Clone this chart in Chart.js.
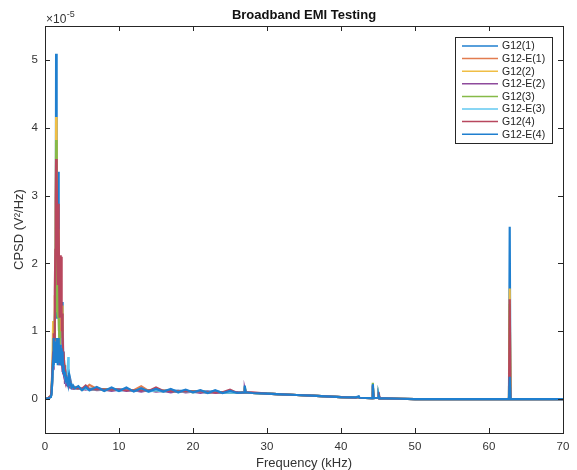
<!DOCTYPE html>
<html>
<head>
<meta charset="utf-8">
<script src="https://cdn.jsdelivr.net/npm/chart.js@4.4.1/dist/chart.umd.min.js"></script>
<style>
  html, body { margin: 0; padding: 0; background: #fff; }
  #wrap { width: 577px; height: 470px; position: relative; }
</style>
</head>
<body>
<div id="wrap"><canvas id="emi"></canvas></div>
<script>
// values in units of 1e-5 V^2/Hz, frequency in kHz
var TITLE = "Broadband EMI Testing";
var X_LABEL = "Frequency (kHz)";
var Y_LABEL = "CPSD (V\u00b2/Hz)";
var Y_EXP = "-5";

var X_TICKS = [0, 10, 20, 30, 40, 50, 60, 70];
var Y_TICKS = [0, 1, 2, 3, 4, 5];

var SERIES = ["G12(1)", "G12-E(1)", "G12(2)", "G12-E(2)", "G12(3)", "G12-E(3)", "G12(4)", "G12-E(4)"];
var COLORS = ["#1f7fcf", "#e27c4f", "#f0be45", "#8e4a9c", "#86ba48", "#62c8f0", "#b8475e", "#1f7fcf"];

// 0 - 4 kHz, the spike region
var freqLow = [0, 0.4, 0.8, 0.9, 1.0, 1.1, 1.15, 1.2, 1.25, 1.3, 1.35, 1.4, 1.45, 1.5, 1.55, 1.6, 1.65, 1.7, 1.75, 1.8,
  1.85, 1.9, 1.95, 2.0, 2.05, 2.1, 2.15, 2.2, 2.25, 2.3, 2.35, 2.4, 2.45, 2.5, 2.6, 2.7, 2.8, 2.9, 3.0, 3.05,
  3.1, 3.15, 3.2, 3.3, 3.4, 3.5, 3.6, 3.8, 4.0];
// 4.5 - 70 kHz
var freqHigh = [4.5, 5, 5.5, 6, 7, 8, 9, 10, 11, 12, 13, 14, 15, 16, 17, 18, 19, 20, 21, 22,
  23, 24, 25, 26, 26.9, 27, 27.1, 28, 30, 32, 34, 36, 38, 40, 42, 42.4, 42.5, 44.2, 44.3, 44.4,
  45, 45.1, 45.2, 46, 48, 50, 55, 60, 62.7, 62.8, 62.9, 65, 70];

var g12_1_low = [0, 0.01, 0.04, 0.12, 0.4, 0.6, 0.8, 0.7, 0.85, 0.9, 1.1, 1.4, 2.0, 5.09, 2.4, 1.5, 1.2, 1.3, 2.0, 3.35,
  1.6, 1.0, 0.9, 1.2, 0.8, 1.1, 0.9, 1.0, 0.8, 1.2, 0.7, 1.43, 0.6, 0.7, 0.5, 0.45, 0.4, 0.3, 0.3, 0.28,
  0.35, 0.25, 0.3, 0.28, 0.22, 0.25, 0.2, 0.18, 0.17];
var g12_1_high = [0.17, 0.15, 0.16, 0.15, 0.16, 0.14, 0.15, 0.14, 0.14, 0.13, 0.14, 0.13, 0.13, 0.12, 0.13, 0.12, 0.12, 0.11, 0.12, 0.11,
  0.11, 0.1, 0.1, 0.1, 0.1, 0.18, 0.09, 0.09, 0.08, 0.07, 0.06, 0.05, 0.04, 0.03, 0.02, 0.03, 0.02, 0.015, 0.2, 0.015,
  0.02, 0.06, 0.01, 0.01, 0.005, 0, 0, 0, 0, 2.54, 0, 0, 0];

var g12e_1_low = [0, 0.01, 0.05, 0.1, 0.3, 0.5, 0.6, 0.55, 0.7, 0.65, 0.8, 0.7, 0.75, 0.9, 0.7, 0.8, 0.6, 0.75, 0.7, 0.85,
  0.6, 0.7, 0.5, 0.65, 0.6, 0.7, 0.5, 0.6, 0.55, 0.6, 0.45, 0.5, 0.4, 0.45, 0.35, 0.3, 0.32, 0.25, 0.22, 0.24,
  0.26, 0.2, 0.24, 0.22, 0.18, 0.2, 0.17, 0.16, 0.18];
var g12e_1_high = [0.17, 0.14, 0.16, 0.21, 0.15, 0.14, 0.15, 0.13, 0.14, 0.13, 0.19, 0.12, 0.13, 0.12, 0.12, 0.11, 0.12, 0.11, 0.11, 0.1,
  0.11, 0.1, 0.1, 0.09, 0.1, 0.15, 0.09, 0.09, 0.08, 0.07, 0.06, 0.05, 0.04, 0.03, 0.02, 0.03, 0.02, 0.015, 0.12, 0.015,
  0.02, 0.07, 0.01, 0.01, 0.005, 0, 0, 0, 0, 0.25, 0, 0, 0];

var g12_2_low = [0, 0.01, 0.05, 0.14, 0.5, 1.15, 0.8, 0.9, 1.1, 1.2, 1.53, 1.3, 1.9, 4.16, 2.2, 1.6, 1.4, 1.3, 1.5, 2.5,
  1.4, 1.0, 0.9, 1.1, 0.9, 1.2, 0.8, 0.9, 0.9, 1.1, 1.38, 0.8, 0.6, 0.6, 0.5, 0.4, 0.38, 0.3, 0.28, 0.3,
  0.3, 0.25, 0.28, 0.25, 0.2, 0.22, 0.2, 0.18, 0.17];
var g12_2_high = [0.16, 0.14, 0.16, 0.14, 0.15, 0.13, 0.15, 0.13, 0.14, 0.12, 0.14, 0.12, 0.13, 0.11, 0.13, 0.11, 0.12, 0.1, 0.12, 0.1,
  0.11, 0.09, 0.1, 0.09, 0.1, 0.17, 0.1, 0.09, 0.08, 0.07, 0.06, 0.05, 0.04, 0.03, 0.02, 0.03, 0.02, 0.015, 0.18, 0.015,
  0.02, 0.06, 0.01, 0.01, 0.005, 0, 0, 0, 0, 1.63, 0, 0, 0];

var g12e_2_low = [0, 0.01, 0.04, 0.1, 0.32, 0.45, 0.55, 0.5, 0.65, 0.6, 0.7, 0.65, 0.7, 0.8, 0.65, 0.75, 0.6, 0.7, 0.65, 0.75,
  0.55, 0.65, 0.5, 0.6, 0.55, 0.6, 0.5, 0.55, 0.5, 0.55, 0.4, 0.45, 0.38, 0.4, 0.32, 0.28, 0.3, 0.24, 0.2, 0.22,
  0.25, 0.2, 0.22, 0.2, 0.17, 0.18, 0.16, 0.15, 0.16];
var g12e_2_high = [0.15, 0.15, 0.14, 0.15, 0.13, 0.14, 0.12, 0.14, 0.12, 0.13, 0.11, 0.13, 0.11, 0.12, 0.1, 0.12, 0.1, 0.11, 0.09, 0.11,
  0.09, 0.1, 0.09, 0.1, 0.09, 0.14, 0.09, 0.09, 0.08, 0.07, 0.06, 0.05, 0.04, 0.03, 0.02, 0.03, 0.02, 0.015, 0.1, 0.015,
  0.02, 0.05, 0.01, 0.01, 0.005, 0, 0, 0, 0, 0.2, 0, 0, 0];

var g12_3_low = [0, 0.01, 0.04, 0.12, 0.4, 0.6, 0.7, 0.8, 0.9, 1.0, 1.2, 1.5, 2.2, 3.82, 2.0, 1.5, 1.3, 1.2, 1.6, 2.2,
  1.3, 1.0, 0.8, 1.0, 0.8, 1.0, 0.8, 0.9, 0.8, 1.0, 0.7, 0.9, 0.6, 0.6, 0.5, 0.4, 0.35, 0.3, 0.28, 0.26,
  0.3, 0.24, 0.28, 0.25, 0.2, 0.2, 0.18, 0.17, 0.16];
var g12_3_high = [0.16, 0.14, 0.16, 0.14, 0.15, 0.14, 0.15, 0.13, 0.14, 0.13, 0.14, 0.12, 0.13, 0.12, 0.12, 0.11, 0.12, 0.11, 0.11, 0.1,
  0.11, 0.1, 0.1, 0.09, 0.1, 0.19, 0.09, 0.09, 0.08, 0.07, 0.06, 0.05, 0.04, 0.03, 0.02, 0.03, 0.02, 0.015, 0.24, 0.015,
  0.02, 0.05, 0.01, 0.01, 0.005, 0, 0, 0, 0, 1.4, 0, 0, 0];

var g12e_3_low = [0, 0.01, 0.04, 0.1, 0.3, 0.5, 0.6, 0.55, 0.7, 0.6, 0.75, 0.7, 0.8, 0.85, 0.7, 0.8, 0.65, 0.7, 0.7, 0.8,
  0.6, 0.7, 0.55, 0.65, 0.6, 0.7, 0.55, 0.65, 0.6, 0.9, 0.5, 1.0, 0.45, 0.5, 0.4, 0.35, 0.3, 0.28, 0.3, 0.35,
  0.45, 0.62, 0.3, 0.25, 0.2, 0.22, 0.18, 0.17, 0.16];
var g12e_3_high = [0.16, 0.14, 0.16, 0.13, 0.15, 0.13, 0.15, 0.12, 0.14, 0.12, 0.14, 0.11, 0.13, 0.11, 0.13, 0.1, 0.12, 0.1, 0.11, 0.09,
  0.11, 0.09, 0.1, 0.09, 0.1, 0.16, 0.1, 0.09, 0.08, 0.07, 0.06, 0.05, 0.04, 0.03, 0.02, 0.03, 0.02, 0.015, 0.16, 0.015,
  0.02, 0.06, 0.01, 0.01, 0.005, 0, 0, 0, 0, 0.28, 0, 0, 0];

var g12_4_low = [0, 0.01, 0.05, 0.15, 0.45, 0.7, 0.97, 0.6, 0.9, 1.2, 1.6, 2.2, 2.9, 3.54, 3.1, 3.3, 2.6, 1.68, 2.4, 2.88,
  2.5, 1.9, 1.2, 2.05, 1.5, 2.12, 1.8, 2.1, 1.0, 1.26, 0.8, 1.1, 0.6, 0.7, 0.5, 0.45, 0.35, 0.3, 0.28, 0.25,
  0.3, 0.2, 0.35, 0.25, 0.2, 0.22, 0.18, 0.17, 0.16];
var g12_4_high = [0.16, 0.15, 0.2, 0.14, 0.15, 0.14, 0.14, 0.14, 0.13, 0.13, 0.13, 0.12, 0.17, 0.12, 0.12, 0.11, 0.12, 0.11, 0.11, 0.1,
  0.1, 0.1, 0.14, 0.09, 0.1, 0.16, 0.1, 0.1, 0.08, 0.07, 0.06, 0.05, 0.04, 0.03, 0.02, 0.03, 0.02, 0.015, 0.2, 0.015,
  0.02, 0.1, 0.01, 0.01, 0.005, 0, 0, 0, 0, 1.47, 0, 0, 0];

var g12e_4_low = [0, 0.01, 0.03, 0.1, 0.35, 0.55, 0.9, 0.5, 0.75, 0.6, 0.85, 0.55, 0.8, 0.7, 0.9, 0.6, 0.8, 0.5, 0.85, 0.65,
  0.9, 0.55, 0.75, 0.6, 0.8, 0.5, 0.7, 0.55, 0.75, 0.5, 0.6, 0.7, 0.4, 0.5, 0.35, 0.4, 0.28, 0.3, 0.25, 0.32,
  0.22, 0.28, 0.2, 0.3, 0.2, 0.24, 0.17, 0.2, 0.16];
var g12e_4_high = [0.19, 0.13, 0.18, 0.13, 0.18, 0.12, 0.17, 0.12, 0.17, 0.11, 0.16, 0.11, 0.15, 0.11, 0.15, 0.1, 0.14, 0.1, 0.13, 0.09,
  0.13, 0.09, 0.12, 0.09, 0.1, 0.2, 0.1, 0.09, 0.08, 0.07, 0.06, 0.05, 0.04, 0.03, 0.025, 0.04, 0.02, 0.015, 0.22, 0.015,
  0.02, 0.05, 0.01, 0.01, 0.005, 0, 0, 0, 0, 0.33, 0, 0, 0];

var VALUES = [
  g12_1_low.concat(g12_1_high),
  g12e_1_low.concat(g12e_1_high),
  g12_2_low.concat(g12_2_high),
  g12e_2_low.concat(g12e_2_high),
  g12_3_low.concat(g12_3_high),
  g12e_3_low.concat(g12e_3_high),
  g12_4_low.concat(g12_4_high),
  g12e_4_low.concat(g12e_4_high)
];

var FONT = "'Liberation Sans', Arial, Helvetica, sans-serif";
var INK = "#262626";
var TICK_TXT = "#333333";

var freqAll = freqLow.concat(freqHigh);

var datasets = SERIES.map(function (name, i) {
  return {
    label: name,
    data: freqAll.map(function (f, k) { return { x: f, y: VALUES[i][k] }; }),
    borderColor: COLORS[i],
    backgroundColor: COLORS[i],
    borderWidth: 2.2,
    pointRadius: 0,
    tension: 0,
    fill: false,
    order: SERIES.length - i
  };
});

// frame, inward ticks, titles, exponent and legend box (MATLAB look)
var matlabDecor = {
  id: "matlabDecor",
  afterDraw: function (chart) {
    var c = chart.ctx, a = chart.chartArea;
    var xs = chart.scales.x, ys = chart.scales.y;
    c.save();
    c.strokeStyle = INK;
    c.lineWidth = 1;
    c.strokeRect(Math.round(a.left) + 0.5, Math.round(a.top) + 0.5, Math.round(a.right - a.left), Math.round(a.bottom - a.top));
    c.beginPath();
    X_TICKS.forEach(function (t) {
      var px = Math.round(xs.getPixelForValue(t)) + 0.5;
      c.moveTo(px, a.bottom); c.lineTo(px, a.bottom - 5);
      c.moveTo(px, a.top); c.lineTo(px, a.top + 5);
    });
    Y_TICKS.forEach(function (t) {
      var py = Math.round(ys.getPixelForValue(t)) + 0.5;
      c.moveTo(a.left, py); c.lineTo(a.left + 5, py);
      c.moveTo(a.right, py); c.lineTo(a.right - 5, py);
    });
    c.stroke();

    var cx = (a.left + a.right) / 2;
    c.fillStyle = "#111";
    c.textAlign = "center";
    c.textBaseline = "middle";
    c.font = "bold 13px " + FONT;
    c.fillText(TITLE, cx, 15);

    c.fillStyle = TICK_TXT;
    c.font = "13px " + FONT;
    c.fillText(X_LABEL, cx, 463);

    c.save();
    c.translate(19, (a.top + a.bottom) / 2);
    c.rotate(-Math.PI / 2);
    c.fillText(Y_LABEL, 0, 0);
    c.restore();

    c.textAlign = "left";
    c.textBaseline = "alphabetic";
    c.font = "12px " + FONT;
    c.fillText("\u00d710", a.left + 1, 23);
    var w = c.measureText("\u00d710").width;
    c.font = "9px " + FONT;
    c.fillText(Y_EXP, a.left + 1 + w + 0.5, 17);

    // legend
    var bx = 455, by = 37, bw = 97, bh = 106;
    c.fillStyle = "#fff";
    c.fillRect(bx, by, bw, bh);
    c.strokeStyle = INK;
    c.lineWidth = 1;
    c.strokeRect(bx + 0.5, by + 0.5, bw, bh);
    c.font = "10.5px " + FONT;
    c.textBaseline = "middle";
    chart.data.datasets.forEach(function (ds, i) {
      var y = by + 9 + i * 12.6;
      c.strokeStyle = ds.borderColor;
      c.lineWidth = 1.5;
      c.beginPath();
      c.moveTo(bx + 7, y); c.lineTo(bx + 43, y);
      c.stroke();
      c.fillStyle = "#222";
      c.fillText(ds.label, bx + 47, y + 0.5);
    });
    c.restore();
  }
};

new Chart(document.getElementById("emi"), {
  type: "line",
  data: { datasets: datasets },
  plugins: [matlabDecor],
  options: {
    responsive: true,
    maintainAspectRatio: false,
    animation: false,
    layout: { padding: { top: 26, right: 14, left: 0, bottom: 0 } },
    plugins: { legend: { display: false }, tooltip: { enabled: false }, title: { display: false } },
    scales: {
      x: {
        type: "linear", min: 0, max: 70,
        ticks: { stepSize: 10, color: TICK_TXT, font: { family: FONT, size: 11.5 }, padding: 7, maxRotation: 0 },
        grid: { display: false, drawTicks: false },
        border: { display: false },
        afterFit: function (s) { s.height = 37; }
      },
      y: {
        type: "linear", min: -0.5, max: 5.5,
        afterBuildTicks: function (s) {
          s.ticks = Y_TICKS.map(function (v) { return { value: v }; });
        },
        ticks: { color: TICK_TXT, font: { family: FONT, size: 11.5 }, padding: 7 },
        grid: { display: false, drawTicks: false },
        border: { display: false },
        afterFit: function (s) { s.width = 45; }
      }
    }
  }
});
</script>
</body>
</html>
